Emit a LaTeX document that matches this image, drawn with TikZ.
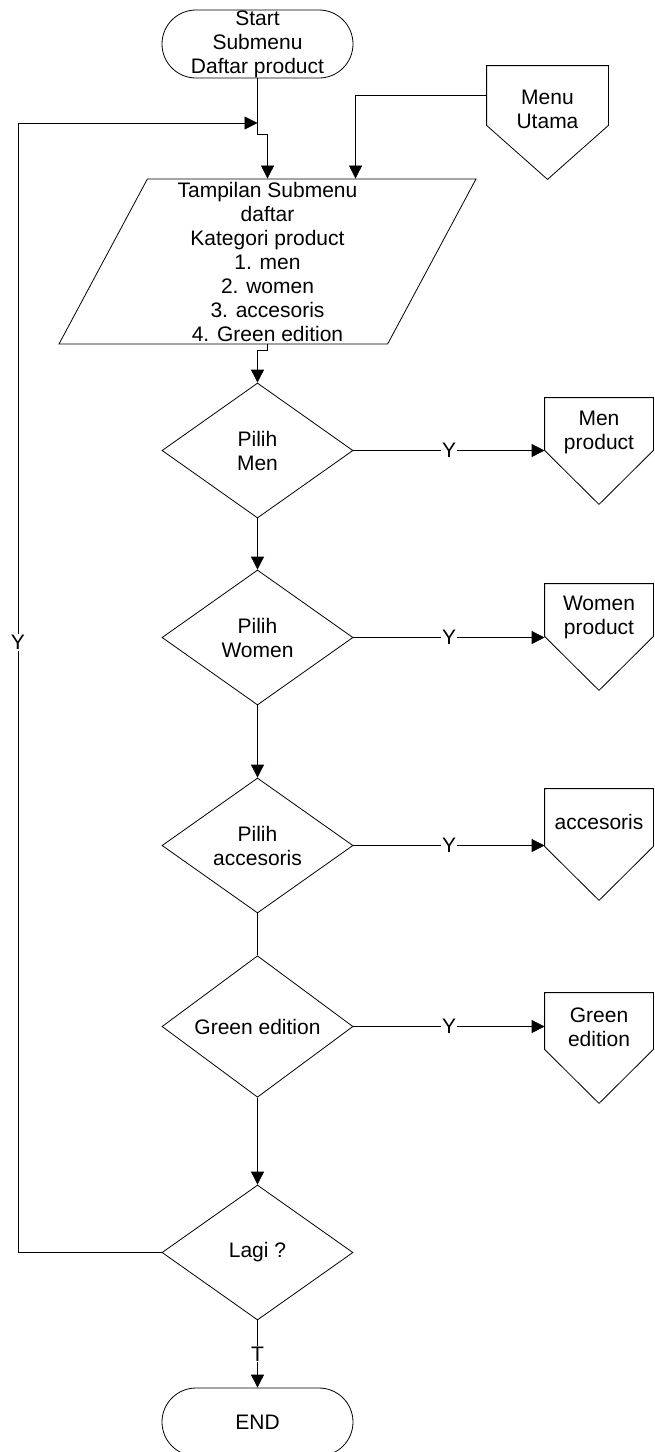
\documentclass[tikz,border=0pt]{standalone}
\usepackage{fontspec}
\setmainfont{Liberation Sans}
\usetikzlibrary{shapes.geometric}
\usetikzlibrary{arrows.meta}
\usetikzlibrary{positioning}

\tikzset{
    terminal/.style={draw, rounded corners=34pt, minimum width=191pt, minimum height=68pt, inner sep=0pt, align=center},
    io/.style={draw, trapezium, trapezium left angle=61, trapezium right angle=119, trapezium stretches body, minimum width=417pt, minimum height=165pt, inner sep=0pt, align=center},
    decision/.style={draw, diamond, minimum width=191pt, minimum height=135pt, inner sep=0pt, align=center},
    offpage/.style={minimum width=108pt, minimum height=52pt, inner sep=0pt},
    offtext/.style={align=center, inner sep=0pt, yshift=-#1},
    flow/.style={-{Triangle[length=13pt,width=13pt]}},
    lbl/.style={fill=white, inner sep=1pt}
}

\begin{document}
\begin{tikzpicture}[x=1pt, y=-1pt, line width=0.8pt, font=\fontsize{21}{24}\selectfont]

        \useasboundingbox (0,0) rectangle (654,1452);

        \node[terminal] (start) at (257.5,44) {Start\\Submenu\\Daftar product};
        \node[io] (para) at (267.5,261.5) {Tampilan Submenu\\daftar\\Kategori product\\1. men\\2. women\\3. accesoris\\4. Green edition};
        \node[offpage, minimum width=121pt, minimum height=59pt, label={[offtext=14pt]center:Menu\\Utama}] (menu) at (547.5,95.5) {};

        \node[decision] (pilihmen) at (257.5,450.5) {Pilih\\Men};
        \node[decision] (pilihwomen) at (257.5,637.5) {Pilih\\Women};
        \node[decision] (pilihacc) at (257.5,845.5) {Pilih\\accesoris};
        \node[decision] (pilihgreen) at (257.5,1026.5) {Green edition};
        \node[decision] (lagi) at (257.5,1252.5) {Lagi ?};
        \node[terminal] (finish) at (257.5,1422) {END};

        \node[offpage, label={[offtext=8pt]center:Men\\product}] (men) at (599,424) {};
        \node[offpage, label={[offtext=7pt]center:Women\\product}] (women) at (599,610) {};
        \node[offpage, minimum height=57pt, label={[offtext=4pt]center:accesoris}] (acc) at (599,817.5) {};
        \node[offpage, minimum height=56pt, label={[offtext=6pt]center:Green\\edition}] (green) at (599,1021) {};

        \foreach \n in {menu,men,women,acc,green}
            \draw (\n.north west) -- (\n.south west) -- ([yshift=-54pt]\n.south) -- (\n.south east) -- (\n.north east) -- cycle;

        \coordinate (back) at (18,123);

        \draw[flow] (start.south) -- ++(0,56) -| (para.north);
        \draw[flow] (menu.west) -| ([xshift=88pt]para.north);
        \draw[flow] (lagi.west) -| node[lbl, pos=0.77] {Y} (back) -- (start.south |- back);

        \draw[flow] (para.south) -- ++(0,6) -| (pilihmen.north);
        \draw[flow] (pilihmen.south) -- (pilihwomen.north);
        \draw[flow] (pilihwomen.south) -- (pilihacc.north);
        \draw (pilihacc.south) -- (pilihgreen.north);
        \draw[flow] (pilihgreen.south) -- (lagi.north);
        \draw[flow] (lagi.south) -- node[lbl] {T} (finish.north);

        \draw[flow] (pilihmen.east) -- node[lbl] {Y} (pilihmen.east -| men.west);
        \draw[flow] (pilihwomen.east) -- node[lbl] {Y} (pilihwomen.east -| women.west);
        \draw[flow] (pilihacc.east) -- node[lbl] {Y} (pilihacc.east -| acc.west);
        \draw[flow] (pilihgreen.east) -- node[lbl] {Y} (pilihgreen.east -| green.west);

\end{tikzpicture}
\end{document}
